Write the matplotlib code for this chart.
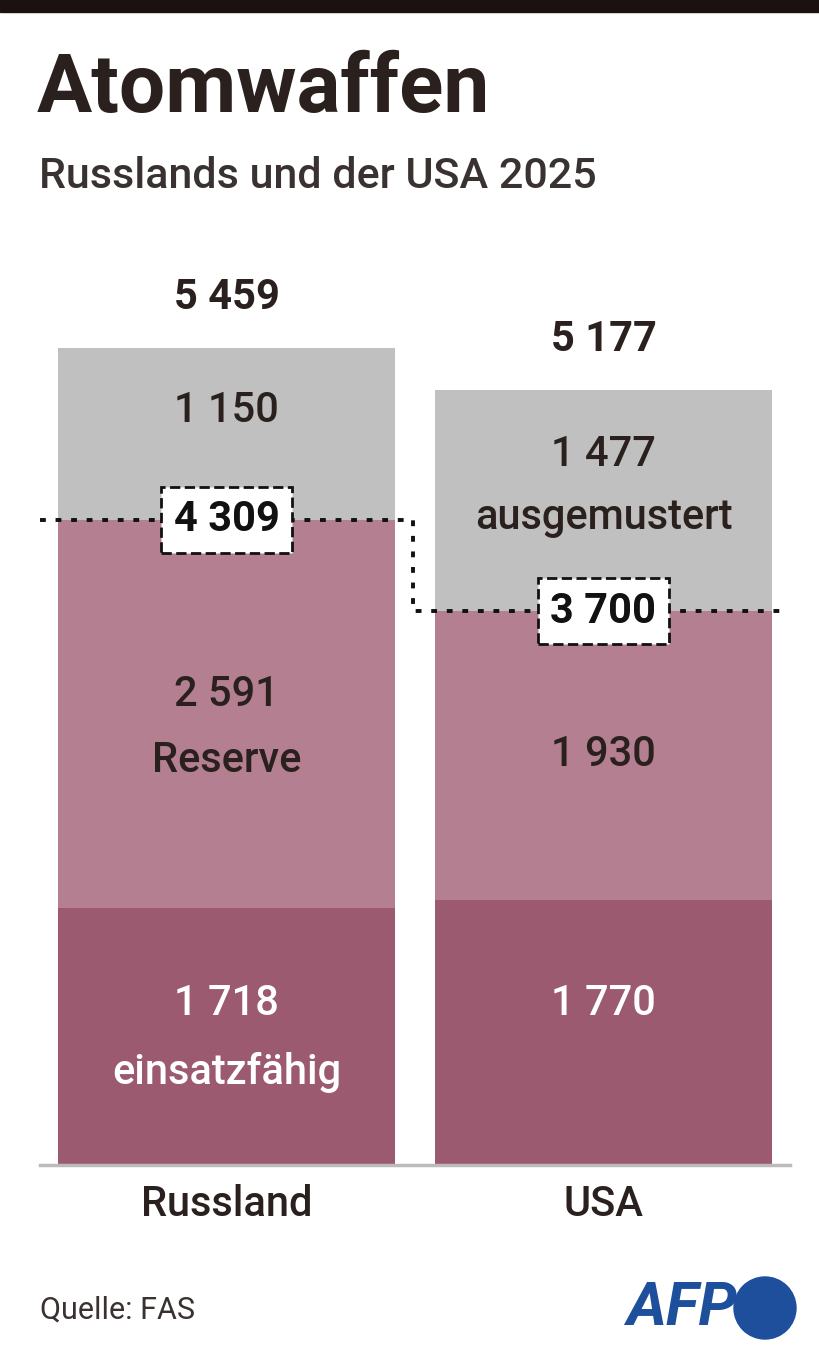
import matplotlib.pyplot as plt
from matplotlib.patches import Rectangle, Circle

plt.rcParams['font.family'] = ['Roboto', 'DejaVu Sans']

countries = ['Russland', 'USA']
einsatz = [1718, 1770]
reserve = [2591, 1930]
ausgemustert = [1150, 1477]
totals = [5459, 5177]
stock = [4309, 3700]

c_dark = '#9b5a70'
c_mid = '#b47f90'
c_gray = '#c0c0c0'
c_text = '#2a211f'


def fmt(v):
    return f'{v:,}'.replace(',', ' ')


fig = plt.figure(figsize=(8.2, 13.65), dpi=100)
fig.patches.append(Rectangle((0, 1 - 12 / 1365), 1, 12 / 1365, transform=fig.transFigure,
                             color='#1a1110'))
fig.text(37 / 820, 1 - 90 / 1365, 'Atomwaffen', fontsize=59, fontweight='bold',
         color=c_text, va='center')
fig.text(39 / 820, 1 - 176 / 1365, 'Russlands und der USA 2025', fontsize=31,
         fontweight='medium', color='#3a3230', va='center')

ax = fig.add_axes([40 / 820, 1 - 1165 / 1365, 750 / 820, 915 / 1365])
x = [0, 1]
w = 0.894
ax.bar(x, einsatz, w, color=c_dark)
ax.bar(x, reserve, w, bottom=einsatz, color=c_mid)
ax.bar(x, ausgemustert, w, bottom=stock, color=c_gray)
ax.set_xlim(-0.4947, 1.4947)
ax.set_ylim(0, 6112)
for s in ['top', 'right', 'left']:
    ax.spines[s].set_visible(False)
ax.spines['bottom'].set_color('#bbbbbb')
ax.spines['bottom'].set_linewidth(2.5)
ax.set_yticks([])
ax.set_xticks(x)
ax.set_xticklabels(countries, fontsize=30, fontweight='medium', color=c_text)
ax.tick_params(axis='x', length=0, pad=14)

fs = 30
kw = dict(ha='center', va='center', fontsize=fs, fontweight='medium')
# Russland
ax.text(0, stock[0] + 734, fmt(ausgemustert[0]), color=c_text, **kw)
ax.text(0, stock[0] - 1169, fmt(reserve[0]), color=c_text, **kw)
ax.text(0, stock[0] - 1604, 'Reserve', color=c_text, **kw)
ax.text(0, einsatz[0] - 636, fmt(einsatz[0]), color='white', **kw)
ax.text(0, einsatz[0] - 1097, 'einsatzfähig', color='white', **kw)
# USA
ax.text(1, stock[1] + 1043, fmt(ausgemustert[1]), color=c_text, **kw)
ax.text(1, stock[1] + 622, 'ausgemustert', color=c_text, **kw)
ax.text(1, stock[1] - 961, fmt(reserve[1]), color=c_text, **kw)
ax.text(1, einsatz[1] - 688, fmt(einsatz[1]), color='white', **kw)

for xi, t in zip(x, totals):
    ax.text(xi, t + 337, fmt(t), ha='center', va='center', fontsize=30, fontweight='bold', color=c_text)

# dotted stockpile line
ax.plot([-0.4947, 0.495, 0.495, 1.481], [stock[0], stock[0], stock[1], stock[1]],
        color='#111111', ls=(0, (1.5, 2.5)), lw=2.8, clip_on=False, zorder=3)
for xi, s in zip(x, stock):
    ax.text(xi, s, fmt(s), ha='center', va='center', fontsize=30, fontweight='bold', color='#111111',
            zorder=4, bbox=dict(boxstyle='square,pad=0.3', fc='white', ec='#111111', ls='--', lw=2))

fig.text(40 / 820, 1 - 1310 / 1365, 'Quelle: FAS', fontsize=22, color='#3a3230', va='center')
fig.text(737 / 820, 1 - 1308 / 1365, 'AFP', fontsize=44, fontweight='bold', style='italic',
         color='#1d4f9c', va='center', ha='right')
fig.patches.append(Circle((7.65, 13.65 - 13.08), 0.31, transform=fig.dpi_scale_trans,
                          color='#1d4f9c'))

fig.savefig('out.png', dpi=100, facecolor='white')
